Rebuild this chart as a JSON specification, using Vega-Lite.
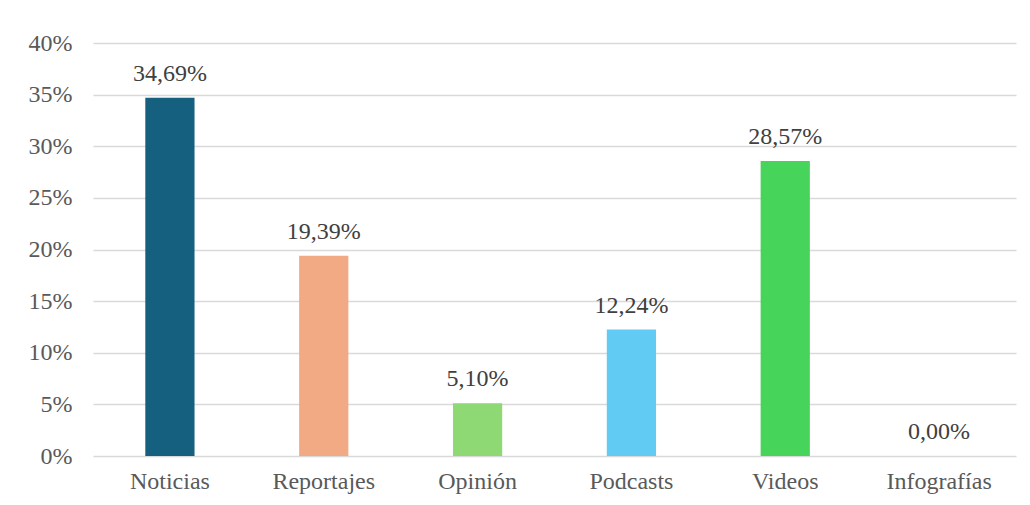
{
  "$schema": "https://vega.github.io/schema/vega-lite/v6.json",
  "width": 923,
  "height": 413,
  "autosize": {"type": "none"},
  "padding": {"left": 93, "top": 43, "right": 14, "bottom": 49},
  "background": "#ffffff",
  "config": {
    "view": {"stroke": null},
    "font": "Liberation Serif"
  },
  "data": {
    "values": [
      {"categoria": "Noticias", "valor": 34.69, "etiqueta": "34,69%"},
      {"categoria": "Reportajes", "valor": 19.39, "etiqueta": "19,39%"},
      {"categoria": "Opinión", "valor": 5.10, "etiqueta": "5,10%"},
      {"categoria": "Podcasts", "valor": 12.24, "etiqueta": "12,24%"},
      {"categoria": "Videos", "valor": 28.57, "etiqueta": "28,57%"},
      {"categoria": "Infografías", "valor": 0, "etiqueta": "0,00%"}
    ]
  },
  "encoding": {
    "x": {
      "field": "categoria",
      "type": "nominal",
      "sort": null,
      "scale": {"paddingInner": 0.68, "paddingOuter": 0.34},
      "axis": {
        "title": null,
        "labelAngle": 0,
        "labelFont": "Liberation Serif",
        "labelFontSize": 24,
        "labelColor": "#595959",
        "labelPadding": 13,
        "domain": false,
        "ticks": false
      }
    },
    "y": {
      "field": "valor",
      "type": "quantitative",
      "scale": {"domain": [0, 40], "nice": false},
      "axis": {
        "title": null,
        "values": [0, 5, 10, 15, 20, 25, 30, 35, 40],
        "labelExpr": "datum.value + '%'",
        "labelFont": "Liberation Serif",
        "labelFontSize": 24,
        "labelColor": "#595959",
        "labelPadding": 21,
        "domain": false,
        "ticks": false,
        "grid": true,
        "gridColor": "#D9D9D9",
        "gridWidth": 1.5
      }
    }
  },
  "layer": [
    {
      "mark": {"type": "bar"},
      "encoding": {
        "color": {
          "field": "categoria",
          "type": "nominal",
          "legend": null,
          "scale": {
            "domain": ["Noticias", "Reportajes", "Opinión", "Podcasts", "Videos", "Infografías"],
            "range": ["#155F7F", "#F2AA84", "#8ED973", "#61CBF3", "#47D45A", "#A02B93"]
          }
        }
      }
    },
    {
      "mark": {"type": "text", "baseline": "bottom", "dy": -12, "fontSize": 24, "font": "Liberation Serif", "color": "#404040"},
      "encoding": {
        "text": {"field": "etiqueta"}
      }
    }
  ]
}
